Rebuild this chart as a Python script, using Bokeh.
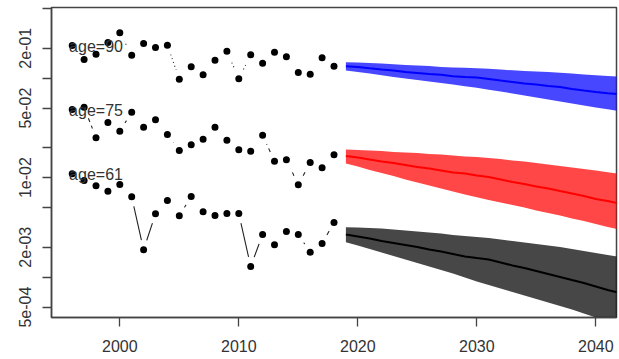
from bokeh.plotting import figure
from bokeh.models import Range1d, FixedTicker, CustomJSTickFormatter
from bokeh.core.properties import value
from bokeh.embed import file_html
from bokeh.resources import INLINE

# ---------------- data ----------------
years_obs = list(range(1996, 2019))
obs_90 = [0.2129, 0.1539, 0.174, 0.2282, 0.2856, 0.1701, 0.2230, 0.2032, 0.2144, 0.0976,
          0.130, 0.108, 0.1515, 0.1866, 0.0986, 0.1717, 0.1413, 0.1823, 0.1639, 0.114,
          0.1096, 0.1602, 0.1319]
obs_75 = [0.0484, 0.0511, 0.02515, 0.0358, 0.0293, 0.0455, 0.0321, 0.0381, 0.0271, 0.01875,
          0.0214, 0.02434, 0.0321, 0.0238, 0.01905, 0.01844, 0.0267, 0.01463, 0.01511, 0.00848,
          0.0142, 0.01256, 0.01697]
obs_61 = [0.01093, 0.00936, 0.00828, 0.00731, 0.00853, 0.00642, 0.001883, 0.00433, 0.00589, 0.00414,
          0.00646, 0.00454, 0.00417, 0.00436, 0.00436, 0.00128, 0.00268, 0.002114, 0.002876, 0.00268,
          0.00178, 0.00218, 0.00354]

years_fc = list(range(2019, 2043))
fc_90_mid = [0.1319, 0.1294, 0.1256, 0.1221, 0.1193, 0.1153, 0.1127, 0.1101, 0.1081, 0.1044,
             0.1027, 0.1015, 0.0981, 0.0947, 0.0915, 0.0884, 0.0864, 0.0834, 0.0815, 0.0778,
             0.0751, 0.0726, 0.0704, 0.0688]
fc_90_hi = [0.1446, 0.1437, 0.1420, 0.1404, 0.1378, 0.1356, 0.1340, 0.1325, 0.1295, 0.1280,
            0.1271, 0.1259, 0.1242, 0.1222, 0.1199, 0.1180, 0.1166, 0.1153, 0.1132, 0.1113,
            0.1088, 0.1068, 0.1051, 0.1032]
fc_90_lo = [0.1193, 0.1153, 0.1113, 0.1068, 0.1027, 0.0992, 0.0958, 0.0925, 0.0894, 0.0864,
            0.0830, 0.0800, 0.0765, 0.0734, 0.0701, 0.0669, 0.0639, 0.0610, 0.0582, 0.0556,
            0.0531, 0.0507, 0.0486, 0.0467]
fc_75_mid = [0.01651, 0.01594, 0.01522, 0.01454, 0.01404, 0.01341, 0.01280, 0.01236, 0.01180, 0.01127,
             0.01101, 0.01051, 0.01015, 0.00958, 0.00904, 0.00864, 0.00815, 0.00778, 0.00734, 0.00693,
             0.00654, 0.00610, 0.00583, 0.00550]
fc_75_hi = [0.01918, 0.01896, 0.01874, 0.01853, 0.01810, 0.01790, 0.01769, 0.01729, 0.01709, 0.01670,
            0.01632, 0.01613, 0.01576, 0.01540, 0.01488, 0.01454, 0.01404, 0.01356, 0.01310, 0.01265,
            0.01222, 0.01180, 0.01132, 0.01088]
fc_75_lo = [0.01388, 0.01295, 0.01194, 0.01113, 0.01039, 0.00958, 0.00894, 0.00834, 0.00778, 0.00726,
            0.00677, 0.00636, 0.00596, 0.00563, 0.00531, 0.00501, 0.00467, 0.00441, 0.00417, 0.00389,
            0.00367, 0.00342, 0.00319, 0.00301]
fc_61_mid = [0.002684, 0.002562, 0.002446, 0.002309, 0.002204, 0.002104, 0.002009, 0.001896, 0.001810, 0.001709,
             0.001613, 0.001558, 0.001505, 0.001404, 0.001310, 0.001236, 0.001153, 0.001076, 0.001004, 0.000936,
             0.000874, 0.000806, 0.000743, 0.000693]
fc_61_hi = [0.003178, 0.003155, 0.003119, 0.003083, 0.003012, 0.002943, 0.002876, 0.002811, 0.002747, 0.002653,
            0.002593, 0.002533, 0.002475, 0.002390, 0.002309, 0.002230, 0.002154, 0.002080, 0.002009, 0.001918,
            0.001832, 0.001749, 0.001670, 0.001594]
fc_61_lo = [0.002246, 0.002080, 0.001918, 0.001769, 0.001632, 0.001505, 0.001388, 0.001280, 0.001180, 0.001088,
            0.000992, 0.000904, 0.000834, 0.000769, 0.000709, 0.000654, 0.000603, 0.000556, 0.000513, 0.000473,
            0.000431, 0.000393, 0.000362, 0.000334]

labels = ["age=90", "age=75", "age=61"]
label_year = 1998
x_ticks = [2000, 2010, 2020, 2030, 2040]
y_ticks = [5e-4, 1e-3, 2e-3, 5e-3, 1e-2, 2e-2, 5e-2, 1e-1, 2e-1, 5e-1]
y_tick_labels = ["5e-04", "", "2e-03", "", "1e-02", "", "5e-02", "", "2e-01", ""]

# ---------------- figure ----------------
p = figure(width=619, height=359, output_backend="svg", toolbar_location=None,
           y_axis_type="log",
           x_range=Range1d(1994.26, 2041.74), y_range=Range1d(0.000393, 0.5128),
           min_border_left=51, min_border_right=3, min_border_top=7, min_border_bottom=42)
p.grid.visible = False
p.outline_line_color = "#444444"
p.outline_line_width = 1.5
p.background_fill_color = "white"
p.border_fill_color = "white"

FONT = "Liberation Sans"
for ax in (p.xaxis[0], p.yaxis[0]):
    ax.axis_line_color = "#444444"
    ax.axis_line_width = 1.5
    ax.major_tick_line_color = "#444444"
    ax.major_tick_line_width = 1.3
    ax.major_tick_in = 0
    ax.major_tick_out = 9
    ax.minor_tick_line_color = None
    ax.major_label_text_font = FONT
    ax.major_label_text_font_size = "16px"
    ax.major_label_text_color = "#333333"

p.xaxis.ticker = FixedTicker(ticks=x_ticks)
p.xaxis.major_label_standoff = 13
p.yaxis.ticker = FixedTicker(ticks=y_ticks)
p.yaxis.formatter = CustomJSTickFormatter(args=dict(vals=y_ticks, labs=y_tick_labels), code="""
for (let i = 0; i < vals.length; i++) { if (Math.abs(tick / vals[i] - 1) < 1e-6) return labs[i]; }
return "";
""")
p.yaxis.major_label_orientation = "vertical"
p.yaxis.major_label_standoff = 11

# observed history (type="b" style)
series = [(obs_90, "1 3"), (obs_75, "4 4"), (obs_61, "solid")]
for vals, dash in series:
    p.line(years_obs, vals, line_color="#222222", line_width=1.1, line_dash=dash)
for vals, dash in series:
    p.scatter(years_obs, vals, size=20, fill_color="white", line_color=None)
for vals, dash in series:
    p.scatter(years_obs, vals, size=7, fill_color="black", line_color=None)

# forecasts
bands = [(fc_90_lo, fc_90_hi, fc_90_mid, "blue"),
         (fc_75_lo, fc_75_hi, fc_75_mid, "red"),
         (fc_61_lo, fc_61_hi, fc_61_mid, "black")]
for lo, hi, mid, col in bands:
    p.varea(x=years_fc, y1=lo, y2=hi, fill_color=col, fill_alpha=0.72)
    p.line(years_fc, mid, line_color=col, line_width=2)

# labels
firsts = [obs_90[0], obs_75[0], obs_61[0]]
p.text(x=[label_year] * 3, y=firsts, text=labels, text_font=value(FONT),
       text_font_size="16px", text_align="center", text_baseline="middle",
       text_color="#333333", y_offset=1)

open("out.html", "w").write(file_html(p, INLINE))
